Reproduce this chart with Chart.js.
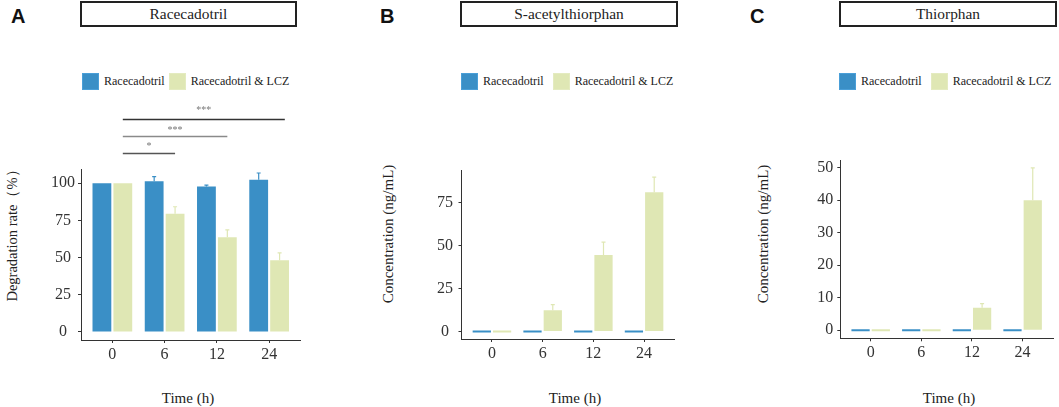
<!DOCTYPE html>
<html>
<head>
<meta charset="utf-8">
<script src="https://cdn.jsdelivr.net/npm/chart.js@4.4.1/dist/chart.umd.min.js"></script>
<style>
  html, body { margin: 0; padding: 0; background: #fff; }
  body { width: 1059px; height: 407px; position: relative; overflow: hidden; font-family: "Liberation Serif", serif; color: #222; }
  .abs { position: absolute; }
  .letter { font-family: "Liberation Sans", Arial, sans-serif; font-weight: bold; font-size: 20px; line-height: 1; color: #111; }
  .titlebox { box-sizing: border-box; border: 2px solid #222; height: 26px; top: 1px; font-size: 15.4px; line-height: 22px; text-align: center; white-space: nowrap; }
  .legend { top: 72px; height: 18px; display: flex; align-items: center; font-size: 12px; white-space: nowrap; color: #222; }
  .legend .sq { width: 17px; height: 17px; box-sizing: border-box; }
  .ytitle { white-space: nowrap; transform: translate(-50%, -50%) rotate(-90deg); font-size: 15px; color: #222; }
  .xtitle { white-space: nowrap; transform: translate(-50%, -50%); font-size: 15px; color: #222; }
  canvas { position: absolute; }
</style>
</head>
<body>
<div class="abs letter" style="left:11px;top:6px;">A</div>
<div class="abs letter" style="left:380px;top:6px;">B</div>
<div class="abs letter" style="left:750px;top:6px;">C</div>

<div class="abs titlebox" style="left:80px;width:217px;">Racecadotril</div>
<div class="abs titlebox" style="left:460px;width:218px;">S-acetylthiorphan</div>
<div class="abs titlebox" style="left:839px;width:218px;">Thiorphan</div>

<div id="legA" class="abs legend" style="left:82px;"></div>
<div id="legB" class="abs legend" style="left:461px;"></div>
<div id="legC" class="abs legend" style="left:839px;"></div>

<div class="abs ytitle" style="left:12px;top:232px;font-size:14.5px;">Degradation rate（%）</div>
<div class="abs ytitle" style="left:388px;top:234px;">Concentration (ng/mL)</div>
<div class="abs ytitle" style="left:763px;top:234px;">Concentration (ng/mL)</div>

<div class="abs xtitle" style="left:188px;top:398px;">Time (h)</div>
<div class="abs xtitle" style="left:575px;top:398px;">Time (h)</div>
<div class="abs xtitle" style="left:949px;top:398px;">Time (h)</div>

<canvas id="chartA" width="320" height="312" style="left:0px;top:95px;"></canvas>
<canvas id="chartB" width="340" height="312" style="left:350px;top:95px;"></canvas>
<canvas id="chartC" width="359" height="312" style="left:700px;top:95px;"></canvas>

<script>
// datos
var timeLabels = ['0', '6', '12', '24'];
var seriesNames = ['Racecadotril', 'Racecadotril & LCZ'];

// A: degradacion (%)
var degRaceMean = [100, 101.3, 97.8, 102.3];
var degRaceSd = [0, 3.2, 0.9, 4.6];
var degLczMean = [100, 79.5, 63.7, 48.3];
var degLczSd = [0, 4.7, 4.9, 4.9];
var degTicks = [0, 25, 50, 75, 100];

// B: S-acetiltiorfan (ng/mL)
var satRaceMean = [0, 0, 0, 0];
var satRaceSd = [0, 0, 0, 0];
var satLczMean = [0, 12.4, 44.6, 81.0];
var satLczSd = [0, 3.3, 7.4, 8.8];
var satTicks = [0, 25, 50, 75];

// C: tiorfan (ng/mL)
var thRaceMean = [0, 0, 0, 0];
var thRaceSd = [0, 0, 0, 0];
var thLczMean = [0, 0, 6.9, 40.0];
var thLczSd = [0, 0, 1.3, 10.0];
var thTicks = [0, 10, 20, 30, 40, 50];

// comparaciones de significancia (panel A)
var sigLabels = ['*', '***', '***'];
var sigFrom = [0.2, 0.2, 0.2];
var sigTo = [1.2, 2.2, 3.3];
var sigLevel = [120.5, 132.1, 143.0];
var sigLabelLevel = [126.1, 137.0, 150.4];

var colorRace = '#3a8fc6';
var colorLcz = '#dfe7b4';
var serif = 'Liberation Serif';

// leyendas en HTML
function crearLeyenda(id, gap) {
    var leg = document.getElementById(id);
    var colores = [colorRace, colorLcz];
    var html = '';
    for (var i = 0; i < seriesNames.length; i++) {
        var borde = i === 0 ? '#4a9fd8' : '#e4ebc0';
        html += '<div class="sq" style="background:' + colores[i] + ';border:1px solid ' + borde + ';"></div>';
        html += '<span style="margin-left:5px;margin-right:' + (i === 0 ? gap : 0) + 'px;">' + seriesNames[i].replace('&', '&amp;') + '</span>';
    }
    leg.innerHTML = html;
}
crearLeyenda('legA', 4);
crearLeyenda('legB', 9);
crearLeyenda('legC', 9);

// barras de error (solo la mitad superior)
var errorBars = {
    id: 'errorBars',
    afterDatasetsDraw: function (chart) {
        var ctx = chart.ctx;
        var y = chart.scales.y;
        chart.data.datasets.forEach(function (ds, d) {
            var meta = chart.getDatasetMeta(d);
            meta.data.forEach(function (bar, i) {
                var sd = ds.errors[i];
                if (!sd) return;
                var yTop = y.getPixelForValue(ds.data[i].y + sd);
                ctx.save();
                ctx.strokeStyle = ds.backgroundColor;
                ctx.lineWidth = 1.2;
                ctx.beginPath();
                ctx.moveTo(bar.x, bar.y);
                ctx.lineTo(bar.x, yTop);
                ctx.moveTo(bar.x - 2, yTop);
                ctx.lineTo(bar.x + 2, yTop);
                ctx.stroke();
                ctx.restore();
            });
        });
    }
};

// lineas de significancia
var sigLines = {
    id: 'sigLines',
    afterDraw: function (chart) {
        if (!chart.options.plugins.sigLines || !chart.options.plugins.sigLines.show) return;
        var ctx = chart.ctx;
        var x = chart.scales.x;
        var y = chart.scales.y;
        var colores = ['#555555', '#8a8a8a', '#333333'];
        for (var i = 0; i < sigLabels.length; i++) {
            var yl = Math.round(y.getPixelForValue(sigLevel[i])) + 0.5;
            var x1 = x.getPixelForValue(sigFrom[i]);
            var x2 = x.getPixelForValue(sigTo[i]);
            ctx.save();
            ctx.strokeStyle = colores[i];
            ctx.lineWidth = 1.3;
            ctx.beginPath();
            ctx.moveTo(x1, yl);
            ctx.lineTo(x2, yl);
            ctx.stroke();
            ctx.fillStyle = '#777777';
            ctx.font = '10px "' + serif + '"';
            ctx.textAlign = 'center';
            ctx.textBaseline = 'alphabetic';
            ctx.fillText(sigLabels[i], (x1 + x2) / 2, y.getPixelForValue(sigLabelLevel[i]) + 5);
            ctx.restore();
        }
    }
};

function puntos(valores) {
    return valores.map(function (v, i) { return { x: i, y: v }; });
}

function crearGrafica(id, cfg) {
    var ctx = document.getElementById(id).getContext('2d');
    return new Chart(ctx, {
        type: 'bar',
        data: {
            datasets: [{
                label: seriesNames[0],
                data: puntos(cfg.race),
                errors: cfg.raceSd,
                backgroundColor: colorRace
            }, {
                label: seriesNames[1],
                data: puntos(cfg.lcz),
                errors: cfg.lczSd,
                backgroundColor: colorLcz
            }]
        },
        options: {
            responsive: false,
            animation: false,
            layout: { padding: { top: cfg.padTop, right: cfg.padRight, left: 0, bottom: 0 } },
            datasets: { bar: { categoryPercentage: 0.8, barPercentage: 0.9, minBarLength: 2 } },
            plugins: {
                legend: { display: false },
                tooltip: { enabled: false },
                sigLines: { show: !!cfg.sig }
            },
            scales: {
                x: {
                    type: 'linear',
                    min: -0.6,
                    max: 3.6,
                    offset: false,
                    grid: { display: true, drawOnChartArea: false, offset: false, tickLength: 3, tickColor: '#333', color: '#333' },
                    border: { display: true, color: '#333', width: 1 },
                    afterBuildTicks: function (s) {
                        s.ticks = timeLabels.map(function (t, i) { return { value: i }; });
                    },
                    ticks: {
                        autoSkip: false,
                        maxRotation: 0,
                        padding: 2,
                        color: '#333',
                        font: { family: serif, size: 16 },
                        callback: function (v) { return timeLabels[v]; }
                    },
                    afterFit: function (s) { s.height = cfg.xHeight; }
                },
                y: {
                    min: cfg.yMin,
                    max: cfg.yMax,
                    grid: { display: true, drawOnChartArea: false, tickLength: 3, tickColor: '#333', color: '#333' },
                    border: { display: true, color: '#333', width: 1 },
                    afterBuildTicks: function (s) {
                        s.ticks = cfg.ticks.map(function (v) { return { value: v }; });
                    },
                    ticks: {
                        padding: cfg.tickPad,
                        crossAlign: cfg.cross,
                        color: '#333',
                        font: { family: serif, size: 16 }
                    },
                    afterFit: function (s) { s.width = cfg.yWidth; }
                }
            }
        },
        plugins: [errorBars, sigLines]
    });
}

crearGrafica('chartA', {
    race: degRaceMean, raceSd: degRaceSd, lcz: degLczMean, lczSd: degLczSd,
    ticks: degTicks, yMin: -5.4, yMax: 109.4,
    padTop: 74.3, padRight: 19.5, yWidth: 81, xHeight: 67, tickPad: 3, cross: 'center', sig: true
});
crearGrafica('chartB', {
    race: satRaceMean, raceSd: satRaceSd, lcz: satLczMean, lczSd: satLczSd,
    ticks: satTicks, yMin: -4.3, yMax: 94,
    padTop: 75, padRight: 15.5, yWidth: 111.5, xHeight: 68, tickPad: 5.5, cross: 'center'
});
crearGrafica('chartC', {
    race: thRaceMean, raceSd: thRaceSd, lcz: thLczMean, lczSd: thLczSd,
    ticks: thTicks, yMin: -2.5, yMax: 52.4,
    padTop: 65, padRight: 6, yWidth: 140.3, xHeight: 68.7, tickPad: 4, cross: 'near'
});
</script>
</body>
</html>
